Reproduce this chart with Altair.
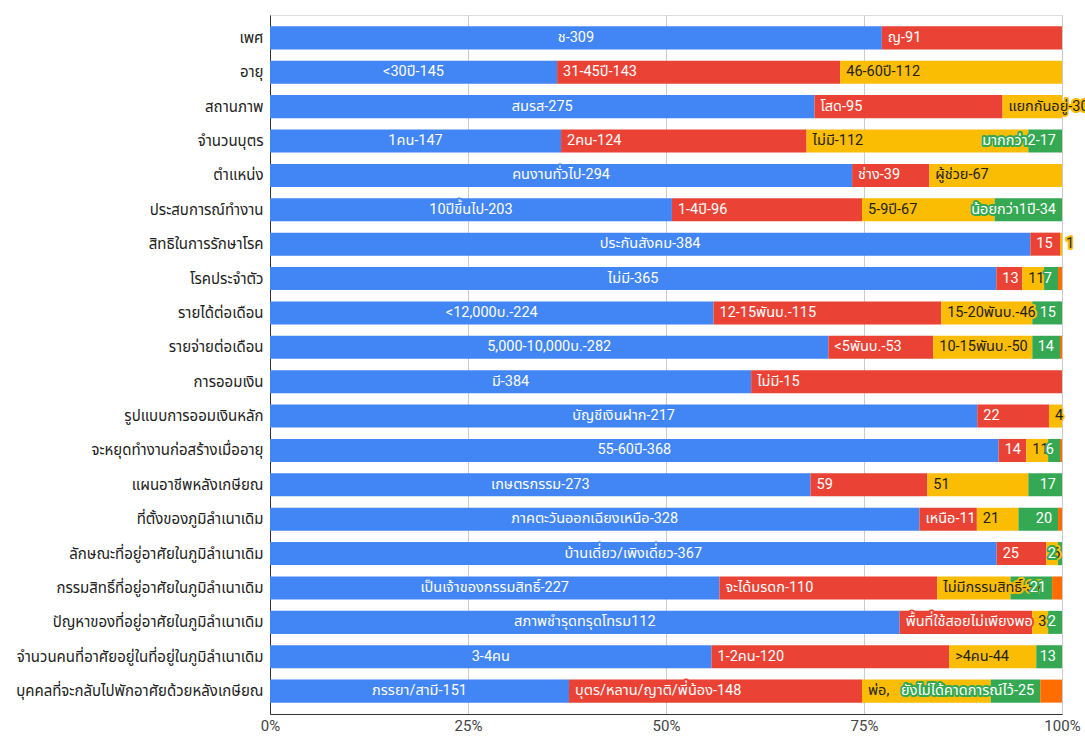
import altair as alt
import pandas as pd

categories = [
    "เพศ", "อายุ", "สถานภาพ", "จำนวนบุตร", "ตำแหน่ง", "ประสบการณ์ทำงาน",
    "สิทธิในการรักษาโรค", "โรคประจำตัว", "รายได้ต่อเดือน", "รายจ่ายต่อเดือน",
    "การออมเงิน", "รูปแบบการออมเงินหลัก", "จะหยุดทำงานก่อสร้างเมื่ออายุ",
    "แผนอาชีพหลังเกษียณ", "ที่ตั้งของภูมิลำเนาเดิม", "ลักษณะที่อยู่อาศัยในภูมิลำเนาเดิม",
    "กรรมสิทธิ์ที่อยู่อาศัยในภูมิลำเนาเดิม", "ปัญหาของที่อยู่อาศัยในภูมิลำเนาเดิม",
    "จำนวนคนที่อาศัยอยู่ในที่อยู่ในภูมิลำเนาเดิม", "บุคคลที่จะกลับไปพักอาศัยด้วยหลังเกษียณ",
]

# counts per answer group (first answer, second, ...), one entry per question
s1 = [309, 145, 275, 147, 294, 203, 384, 365, 224, 282, 243, 217, 368, 273, 328, 367, 227, 318, 223, 151]
s2 = [91, 143, 95, 124, 39, 96, 15, 13, 115, 53, 157, 22, 14, 59, 29, 25, 110, 67, 120, 148]
s3 = [None, 112, 30, 112, 67, 67, 1, 11, 46, 50, None, 4, 11, 51, 21, 6, 37, 8, 44, 65]
s4 = [None, None, None, 17, None, 34, None, 7, 15, 14, None, None, 6, 17, 20, 2, 21, 7, 13, 25]
s5 = [None, None, None, None, None, None, None, 2, None, 1, None, None, 1, None, 2, None, 5, None, None, 11]

# data labels shown on each segment
l1 = ["ช-309", "<30ปี-145", "สมรส-275", "1คน-147", "คนงานทั่วไป-294", "10ปีขึ้นไป-203",
      "ประกันสังคม-384", "ไม่มี-365", "<12,000บ.-224", "5,000-10,000บ.-282", "มี-384",
      "บัญชีเงินฝาก-217", "55-60ปี-368", "เกษตรกรรม-273", "ภาคตะวันออกเฉียงเหนือ-328",
      "บ้านเดี่ยว/เพิงเดี่ยว-367", "เป็นเจ้าของกรรมสิทธิ์-227", "สภาพชำรุดทรุดโทรม112",
      "3-4คน", "ภรรยา/สามี-151"]
l2 = ["ญ-91", "31-45ปี-143", "โสด-95", "2คน-124", "ช่าง-39", "1-4ปี-96", "15", "13",
      "12-15พันบ.-115", "<5พันบ.-53", "ไม่มี-15", "22", "14", "59", "เหนือ-11", "25",
      "จะได้มรดก-110", "พื้นที่ใช้สอยไม่เพียงพอ", "1-2คน-120", "บุตร/หลาน/ญาติ/พี่น้อง-148"]
l3 = ["", "46-60ปี-112", "แยกกันอยู่-30", "ไม่มี-112", "ผู้ช่วย-67", "5-9ปี-67", "1", "11",
      "15-20พันบ.-46", "10-15พันบ.-50", "", "4", "11", "51", "21", "6",
      "ไม่มีกรรมสิทธิ์-37", "3", ">4คน-44", "พ่อ,"]
l4 = ["", "", "", "มากกว่า2-17", "", "น้อยกว่า1ปี-34", "", "7", "15", "14", "", "",
      "6", "17", "20", "2", "21", "2", "13", "ยังไม่ได้คาดการณ์ไว้-25"]
l5 = [""] * 20

series = ["g1", "g2", "g3", "g4", "g5"]
colors = ["#4285F4", "#EA4335", "#FBBC04", "#34A853", "#FF6D01"]
text_colors = ["#ffffff", "#ffffff", "#222222", "#ffffff", "#ffffff"]

rows = []
for si, (vals, labs) in enumerate(zip([s1, s2, s3, s4, s5], [l1, l2, l3, l4, l5])):
    for cat, v, lab in zip(categories, vals, labs):
        if v is None:
            continue
        rows.append({"category": cat, "series": series[si], "order": si,
                     "value": v, "label": lab})
df = pd.DataFrame(rows)

FONT = "Roboto, 'Noto Sans Thai', 'Noto Sans', sans-serif"
LABEL_SIZE = 14.5

y_axis = alt.Axis(title=None, ticks=False, labelPadding=7, domainColor="#333333",
                  labelFontSize=15, labelColor="#222222", labelFont=FONT,
                  labelLimit=400)
x_axis = alt.Axis(values=[0, 0.25, 0.5, 0.75, 1], format=".0%", title=None,
                  ticks=False, labelPadding=4, labelFlush=False, gridColor="#cccccc",
                  domainColor="#333333", labelColor="#444444",
                  labelFontSize=15, labelFont=FONT)
x_scale = alt.Scale(domain=[0, 1], nice=False, zero=True)
y_scale = alt.Scale(paddingInner=0.33, paddingOuter=0.33)


def y_enc():
    return alt.Y("category:N", sort=categories, scale=y_scale, axis=y_axis)


def x_enc(field):
    return alt.X(f"{field}:Q", scale=x_scale, axis=x_axis)


base = alt.Chart(df).transform_stack(
    stack="value", groupby=["category"], sort=[alt.SortField("order")],
    offset="normalize", as_=["x0", "x1"],
).transform_calculate(xm="(datum.x0 + datum.x1) / 2")

bars = base.mark_bar().encode(
    y=y_enc(),
    x=x_enc("x0"),
    x2="x1:Q",
    color=alt.Color("series:N", scale=alt.Scale(domain=series, range=colors), legend=None),
)

# label placement per answer group: centred, from the segment start, or at its end
placement = {
    "g1": ("xm", "center", 0),
    "g2": ("x0", "left", 6),
    "g3": ("x0", "left", 6),
    "g4": ("x1", "right", -6),
}

layers = [bars]
for si, s in enumerate(series[:4]):
    field, align, dx = placement[s]
    sub = base.transform_filter(alt.datum.series == s).transform_filter("datum.label != ''")
    halo = sub.mark_text(align=align, baseline="middle", dx=dx, fontSize=LABEL_SIZE, font=FONT,
                         fill=colors[si], stroke=colors[si], strokeWidth=4,
                         strokeJoin="round").encode(
        y=y_enc(), x=x_enc(field), text="label:N")
    txt = sub.mark_text(align=align, baseline="middle", dx=dx, fontSize=LABEL_SIZE, font=FONT,
                        fill=text_colors[si]).encode(
        y=y_enc(), x=x_enc(field), text="label:N")
    layers += [halo, txt]

chart = alt.layer(*layers).properties(
    width=792, height=699,
    padding={"left": 270, "top": 15, "right": 23, "bottom": 22},
    autosize=alt.AutoSizeParams(type="none"),
).configure_view(stroke=None).configure(background="white")

chart.save("out.html", embed_options={"renderer": "svg", "actions": False})
